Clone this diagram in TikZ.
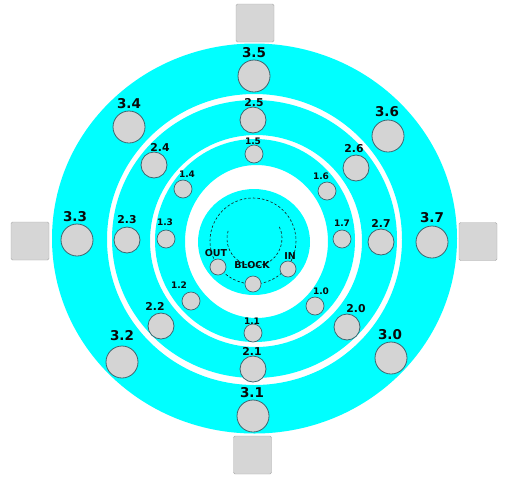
\documentclass[tikz,border=0pt]{standalone}
\usepackage{fontspec}
\setmainfont{DejaVu Sans}
\definecolor{ringc}{HTML}{00FFFF}
\definecolor{dotc}{HTML}{D4D4D4}
\definecolor{dotline}{HTML}{3D6670}
\definecolor{boxc}{HTML}{D6D6D6}
\definecolor{txt}{HTML}{0A0A0A}
\tikzset{
  c3/.style={circle, draw=dotline, fill=dotc, line width=0.8pt, minimum size=32pt, inner sep=0pt},
  c2/.style={circle, draw=dotline, fill=dotc, line width=0.8pt, minimum size=26pt, inner sep=0pt},
  c1/.style={circle, draw=dotline, fill=dotc, line width=0.7pt, minimum size=18pt, inner sep=0pt},
  c0/.style={circle, draw=dotline, fill=dotc, line width=0.7pt, minimum size=16pt, inner sep=0pt},
  l3/.style={text=txt, inner sep=0pt, font=\bfseries\fontsize{13.5}{14}\selectfont},
  l2/.style={text=txt, inner sep=0pt, font=\bfseries\fontsize{10.8}{11}\selectfont},
  l1/.style={text=txt, inner sep=0pt, font=\bfseries\fontsize{9}{9}\selectfont},
  l0/.style={text=txt, inner sep=0pt, font=\bfseries\fontsize{9.5}{10}\selectfont},
  boxnode/.style={fill=boxc, draw=boxc!80!black, line width=0.4pt, rounded corners=1.5pt, minimum size=38pt, inner sep=0pt},
  dashring/.style={draw=black!90, line width=0.6pt, dash pattern=on 2.5pt off 2pt}
}
\begin{document}
\begin{tikzpicture}[x=1pt,y=-1pt]
\useasboundingbox (0,0) rectangle (516,483);
\fill[white] (0,0) rectangle (516,483);
% rings
\fill[ringc, even odd rule] (254.5,238.5) ellipse (202.5 and 195) (254.5,239.5) ellipse (147.5 and 145.5);
\fill[ringc, even odd rule] (254.5,239) ellipse (142.5 and 139) (256,241) ellipse (106 and 106);
\fill[ringc, even odd rule] (255,240.5) ellipse (100 and 101.5) (256.5,241.5) ellipse (71.5 and 76.5);
\fill[ringc] (254,242) ellipse (56 and 53);
% dashed tracks
\draw[dashring] (253,241) circle (43);
\draw[dashring] (254.5,238.5) ++(-25:27.5) arc (-25:197:27.5);
% boxes
\node[boxnode] (btop) at (255,23) {};
\node[boxnode] (bbot) at (252.5,455) {};
\node[boxnode] (bleft) at (30,241) {};
\node[boxnode] (bright) at (478,241.5) {};
% ring 3
\node[c3] (n35) at (254,76) {};
\node[c3] (n34) at (129,127) {};
\node[c3] (n33) at (77,240) {};
\node[c3] (n32) at (122,362) {};
\node[c3] (n31) at (253,416) {};
\node[c3] (n30) at (391,358) {};
\node[c3] (n37) at (432,242) {};
\node[c3] (n36) at (388,136) {};
\node[l3] (t35) at (254,53) {3.5};
\node[l3] (t34) at (129,104) {3.4};
\node[l3] (t33) at (75,217) {3.3};
\node[l3] (t32) at (122,336) {3.2};
\node[l3] (t31) at (252,393) {3.1};
\node[l3] (t30) at (390,335) {3.0};
\node[l3] (t37) at (432,218) {3.7};
\node[l3] (t36) at (387,112) {3.6};
% ring 2
\node[c2] (n25) at (253,120) {};
\node[c2] (n24) at (154,165) {};
\node[c2] (n23) at (127,240) {};
\node[c2] (n22) at (161,326) {};
\node[c2] (n21) at (253,369) {};
\node[c2] (n20) at (347,327) {};
\node[c2] (n27) at (381,242) {};
\node[c2] (n26) at (356,168) {};
\node[l2] (t25) at (254,103) {2.5};
\node[l2] (t24) at (160,147) {2.4};
\node[l2] (t23) at (127,220) {2.3};
\node[l2] (t22) at (155,306) {2.2};
\node[l2] (t21) at (252,351) {2.1};
\node[l2] (t20) at (356,309) {2.0};
\node[l2] (t27) at (381,223) {2.7};
\node[l2] (t26) at (354,149) {2.6};
% ring 1
\node[c1] (n15) at (254,154) {};
\node[c1] (n14) at (183,189) {};
\node[c1] (n13) at (166,239) {};
\node[c1] (n12) at (191,301) {};
\node[c1] (n11) at (253,333) {};
\node[c1] (n10) at (315,306) {};
\node[c1] (n17) at (342,239) {};
\node[c1] (n16) at (327,191) {};
\node[l1] (t15) at (253,141) {1.5};
\node[l1] (t14) at (187,174) {1.4};
\node[l1] (t13) at (165,222) {1.3};
\node[l1] (t12) at (179,285) {1.2};
\node[l1] (t11) at (252,321) {1.1};
\node[l1] (t10) at (321,291) {1.0};
\node[l1] (t17) at (342,223) {1.7};
\node[l1] (t16) at (321,176) {1.6};
% block
\node[c0] (nout) at (218,267) {};
\node[c0] (nblock) at (253,284) {};
\node[c0] (nin) at (288,269) {};
\node[l0] (tout) at (216,253) {OUT};
\node[l0] (tblock) at (252,265) {BLOCK};
\node[l0] (tin) at (290,256) {IN};
\end{tikzpicture}
\end{document}
